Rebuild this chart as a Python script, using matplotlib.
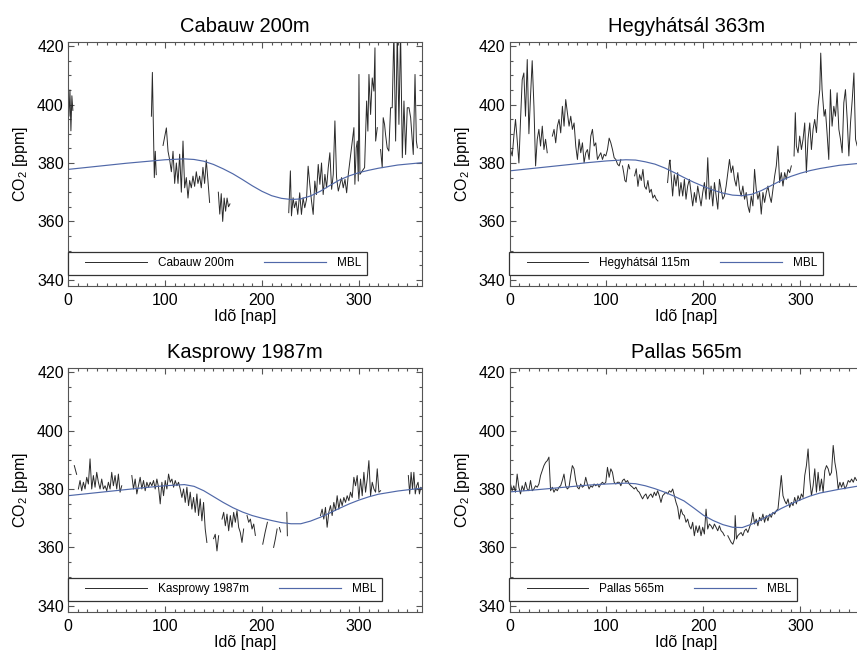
import numpy as np
import matplotlib
matplotlib.use("Agg")
import matplotlib.pyplot as plt
from matplotlib.legend_handler import HandlerLine2D
from matplotlib.lines import Line2D
from matplotlib.ticker import MultipleLocator

plt.rcParams['font.family'] = ['Liberation Sans', 'DejaVu Sans']

# ---------------- data ----------------
titles = ['Cabauw 200m', 'Hegyhátsál 363m', 'Kasprowy 1987m', 'Pallas 565m']
legend_labels = ['Cabauw 200m', 'Hegyhátsál 115m', 'Kasprowy 1987m', 'Pallas 565m']
mbl_label = 'MBL'
x_label = 'Idõ [nap]'
y_label = r'CO$_{\mathregular{2}}$ [ppm]'
x_ticks = [0, 100, 200, 300]
y_ticks = [340, 360, 380, 400, 420]

# MBL reference curves (day, ppm)
mbl_day = [0, 20, 40, 60, 80, 100, 120, 130, 140, 150, 160, 170, 180, 190, 200, 210, 220, 230,
           240, 250, 260, 270, 280, 290, 300, 310, 320, 340, 365]
cab_mbl = [377.8, 378.5, 379.2, 379.9, 380.5, 381.1, 381.4, 381.2, 380.6, 379.5, 378.0, 376.3,
           374.3, 372.2, 370.3, 368.8, 367.9, 367.5, 367.7, 368.7, 370.3, 372.3, 374.2, 375.6,
           376.7, 377.5, 378.2, 379.3, 380.1]
heg_mbl = [377.3, 378.0, 378.7, 379.4, 380.1, 380.7, 381.1, 381.0, 380.4, 379.6, 378.3, 376.7,
           375.0, 373.4, 372.0, 370.7, 369.7, 369.0, 368.8, 369.3, 370.6, 372.3, 374.0, 375.4,
           376.5, 377.4, 378.1, 379.2, 380.0]
kas_mbl = [377.7, 378.4, 379.1, 379.8, 380.5, 381.1, 381.5, 380.9, 379.4, 377.4, 375.4, 373.6,
           372.1, 370.9, 370.0, 369.2, 368.5, 368.1, 368.1, 369.0, 370.3, 371.8, 373.4, 374.9,
           376.2, 377.3, 378.2, 379.3, 380.3]
pal_mbl = [379.0, 379.5, 380.1, 380.7, 381.3, 381.7, 382.0, 381.8, 381.1, 380.1, 378.9, 377.5,
           375.9, 373.5, 371.0, 369.2, 367.8, 366.9, 366.8, 368.0, 369.6, 371.4, 373.3, 374.9,
           376.3, 377.6, 378.6, 379.9, 381.3]

# ---- Cabauw 200m observations ----
cab_d1 = [0, 1, 2, 3, 4, 5]
cab_v1 = [404, 396, 405, 391, 403, 398]
cab_d2 = [86, 87, 88, 89, 90, 91]
cab_v2 = [396, 411, 392, 375, 384, 376]
cab_d3 = (98, 146)
cab_v3 = [386, 389, 392, 384, 381, 377, 384, 373, 380, 373, 383, 370, 387.5, 371.5, 375,
          368, 374, 371.5, 375.5, 372, 377, 373, 375.5, 371.5, 378.5, 373, 381, 374, 366.5]
cab_d4 = (155, 167)
cab_v4 = [370, 362.5, 369.5, 360, 368, 363.5, 368, 365, 366]
cab_d5 = [227.6, 229.3, 230.4, 232.1, 233.5, 235.2, 236.9, 238.9, 240.7, 242.4,
          244.1, 245.9, 247.6, 249.3, 251.1, 252.8, 254.5, 256.2, 258.0, 259.7,
          261.4, 263.1, 264.9, 266.6, 268.3, 270.0, 271.8, 273.5, 275.2, 276.9,
          278.7, 280.4, 282.1, 283.8, 285.6, 287.3, 289.0, 294.8, 295.8, 297.2,
          298.3, 299.3, 300.0, 301.0, 303.4, 305.8, 307.9, 309.2, 310.3, 312.0,
          313.7, 315.4, 316.5, 317.2, 318.9]
cab_v5 = [363, 377.3, 361.9, 368.1, 364.7, 366.9, 362.4, 369.8, 362.4, 368.1,
          364.7, 367.5, 378.9, 372.7, 366.9, 362.4, 373.8, 369.2, 379.5, 372.7,
          380, 369.2, 376.1, 371.5, 378.3, 383.5, 371, 376.1, 394.4, 375,
          370.4, 372.7, 375, 371.5, 374.4, 369.8, 376.1, 392.1, 372.7, 385.2,
          387.5, 373.8, 410.3, 376.1, 377.3, 378.4, 401.2, 390.9, 410.3, 396.6,
          409.1, 404.6, 419.4, 387.5, 392.1]
cab_d6 = [322.3, 324, 325, 326.4, 327.4, 329.1, 330.8, 332.6, 334.3, 336,
          337.8, 339.5, 341.2, 342.9, 344.7, 346.4, 348.1, 349.8, 351.6, 353.3,
          355, 356, 357.8, 359.2, 360.2]
cab_v6 = [384.6, 378.4, 395.5, 393.2, 389.8, 385.2, 384.1, 398.9, 398.9, 425,
          387.5, 425, 393.2, 425, 381.8, 401.2, 382.9, 398.9, 398.9, 395.5,
          387.5, 382.9, 410.3, 387.5, 385.2]

# ---- Hegyhátsál 115m observations ----
heg_d1 = [0, 1, 2.8, 4.5, 6.2, 7.9, 9.7, 11.4, 13.1, 14.8, 16.5, 18.3, 20.0, 21.7,
          23.4, 25.2, 26.9, 28.6, 30.3, 32.0, 33.8, 35.5, 37.2, 38.9]
heg_v1 = [388, 384.6, 382.4, 389.2, 394.9, 388, 380, 394.9, 408.5, 410.8, 396, 415.4, 390, 403,
          415, 399.4, 379, 388.1, 391.5, 385.8, 392.6, 384.6, 388.1, 383.5]
heg_d2 = (44.2, 114.8)
heg_v2 = [389.2, 391.5, 386.9, 392.6, 394.9, 390.3, 399.4, 392.6, 401.7, 397.2,
          392.6, 396, 391.5, 393.7, 385.8, 381.2, 388.1, 383.5, 386.9, 380.1,
          383.5, 384.6, 381.2, 389.2, 391.5, 385.8, 386.9, 381.2, 382.4, 383.5,
          381.2, 383, 382.4, 384.6, 388.5, 386.9, 384.6, 381.8, 381.2, 379.6,
          379, 381.2]
heg_d3 = (116.5, 124)
heg_v3 = [379, 376.7, 374, 373.5, 377, 379.5, 378]
heg_d4 = (129, 153)
heg_v4 = [375.6, 378, 372, 376, 374, 377.8, 372, 371, 374, 369.9, 371, 368, 369, 367.6, 367]
heg_d5 = [163, 164.8, 165.5, 168.2, 169.9, 171.7, 173.4, 175.1, 176.8, 178.6, 180.3, 182,
          183.7, 185.5, 187.2]
heg_v5 = [373.3, 380.1, 381, 368.7, 376, 372.1, 376.7, 368.7, 373.3, 368.7, 374.4, 367.6,
          372.1, 374.4, 369.9]
heg_d6 = (188.9, 290.6)
heg_v6 = [365.3, 369.9, 366.5, 372.1, 368.7, 365.3, 369.9, 373.3, 367.6, 381.8,
          367.6, 372.1, 365.3, 373.3, 368.7, 364.2, 374.4, 371, 367.6, 368.7,
          372.1, 376.7, 381.2, 376.7, 379, 374.4, 372.1, 376.7, 371, 368.7,
          372.1, 367.6, 369.9, 365.3, 363.1, 368.7, 365.3, 377.8, 371, 367.6,
          369.9, 362.5, 369.9, 366.5, 369.9, 372.1, 368.7, 366.5, 371, 375.5,
          379, 385.8, 373.3, 376.7, 372.1, 376.7, 374.4, 377.8, 376.7, 379]
heg_d7 = [293.4, 294.7, 295.8, 297.5, 299.2, 301.0, 302.7, 304.4, 306.1, 307.8,
          309.6, 311.3, 313.0, 314.7, 316.5, 318.2, 319.9, 320.9, 322.3, 324.4,
          325.7, 327.4, 329.2, 330.9, 332.6, 334.4, 336.1, 337.8, 339.6, 341.3,
          343.0, 344.7, 346.4, 348.2, 349.9, 351.6, 353.4, 355.1, 356.8, 358.5,
          359.9, 362]
heg_v7 = [382.4, 397.2, 385.8, 383.5, 389.2, 384.6, 388.1, 393.7, 376.7, 388.1,
          393.7, 384.6, 391.5, 394.9, 390.4, 399.4, 405.1, 417.6, 405.1, 396,
          398.3, 390.4, 381.2, 405.1, 392.6, 399.4, 396, 404, 391.5, 388.1,
          383.5, 400.6, 405.1, 394.9, 382.4, 393.7, 401.7, 410.8, 388.1, 385.8,
          390.4, 386]

# ---- Kasprowy 1987m observations ----
kas_d1 = [6.5, 8.9]
kas_v1 = [388, 385]
kas_d2 = (10.7, 55.4)
kas_v2 = [380, 382.9, 379.4, 382.3, 380, 384, 381.7, 390.3, 380, 384.6, 380.6, 385.7, 382.3,
          380, 383.4, 380, 381.1, 379.4, 382.3, 380, 385.7, 381.1, 384.6, 380, 385.1, 378.9, 381.1]
kas_d3 = (65.8, 112.3)
kas_v3 = [384.6, 380, 383.4, 378.3, 381.1, 384, 380, 382.9, 379.4, 382.3, 380.6, 382.3, 381.1,
          382.9, 380, 383.4, 380.6, 374.9, 382.3, 377.7, 382.9, 380, 385.1, 382.3, 383.4, 380.6,
          382.9, 381.1]
kas_d4 = (114.0, 143.2)
kas_v4 = [382.3, 380, 377.1, 380, 375.4, 380.6, 374.3, 378.9, 373.1, 377.1, 372, 378.3, 370.9,
          376.6, 369.1, 375.4, 366.3, 361.7]
kas_d5 = [150.1, 151.8, 153.6, 155.3]
kas_v5 = [363, 364.5, 358.8, 364]
kas_d6 = (158.8, 181.1)
kas_v6 = [369.7, 372, 367.4, 371.4, 365.7, 370.9, 366.9, 372, 368.6, 372.6, 366.9, 365.1, 361.7, 366.3]
kas_d7 = (184.6, 193.2)
kas_v7 = [370.9, 368.6, 369.7, 366.3, 368, 364.1]
kas_d8 = (200.8, 205.6)
kas_v8 = [361.1, 365.1, 368.6]
kas_d9 = (212, 215.6)
kas_v9 = [360, 362.9, 366.3]
kas_d10 = [218, 219.2]
kas_v10 = [366.8, 365.3]
kas_d11 = [225.6, 226.2]
kas_v11 = [372, 364]
kas_d12 = (260.3, 322.3)
kas_v12 = [370.9, 373.1, 369.7, 373.7, 366.9, 372, 374.3, 370.9, 375.4, 372.6, 377.7, 373.1,
           376.6, 374.3, 377.1, 375.4, 377.7, 376, 378.9, 377.1, 384, 381.1, 384.6, 376.6,
           383.4, 377.7, 385.7, 378.9, 383.4, 389.7, 377.7, 382.3, 380, 378.9, 386.9, 378.9, 379.4]
kas_d13 = (350.9, 365.2)
kas_v13 = [384.6, 378.3, 385.7, 380, 385.7, 378.3, 381.1, 382.3, 378.3, 380.6, 380]

# ---- Pallas 565m observations ----
pal_d1 = (1.0, 171.7)
pal_v1 = [381.7, 379.4, 381.1, 378.9, 385.1, 380.6, 378.3, 381.1, 379.4, 382.3,
          380, 379.4, 382.9, 379.4, 380, 381.1, 380.6, 381.7, 384.6, 386.3,
          388, 389.1, 389.7, 390.9, 379.4, 380.6, 378.9, 380, 379.4, 380.6,
          381.1, 382.9, 385.1, 381.1, 380, 380.6, 384.6, 388, 386.9, 382.9,
          380.6, 380, 381.7, 380.6, 381.1, 384, 381.7, 380, 381.1, 380.6,
          381.7, 381.1, 381.7, 380.6, 381.7, 382.3, 381.7, 382.3, 387.4, 384,
          386.9, 385.7, 382.3, 381.7, 382.3, 382.3, 381.1, 382.9, 383.4, 382.3,
          382.9, 381.7, 381.1, 380.6, 380, 380.6, 379.4, 378.9, 377.7, 376.6,
          377.7, 378.3, 376.6, 377.7, 378.3, 377.1, 378.9, 377.7, 379.4, 377.7,
          375.4, 377.7, 378.3, 378.9, 378.3, 379.4, 378.9, 380, 377.7, 375.4]
pal_d2 = (173.4, 182.0)
pal_v2 = [373.7, 369.7, 373.1, 371.4, 370.9, 368.6]
pal_d3 = (183.7, 221.6)
pal_v3 = [369.7, 367.4, 366.3, 368.6, 364, 367.4, 365.1, 367.4, 364, 366.9, 364.6, 373.1,
          366.3, 368, 367.4, 366.3, 368, 366.9, 365.7, 367.4, 365.7, 365.1, 364]
pal_d4 = [225.1, 226.8, 228.6, 230.3, 232.0, 232.7, 234.0]
pal_v4 = [364, 362.9, 361.7, 361.1, 362.9, 370.9, 362.9]
pal_d5 = (235.4, 357.9)
pal_v5 = [364, 364.6, 365.1, 364, 365.7, 366.3, 365.1, 366.9, 368.6, 372,
          368, 369.7, 367.4, 370.3, 369.1, 371.4, 368.6, 370.9, 369.1, 371.4,
          370.3, 372, 371.4, 372.6, 373.1, 378.9, 384.6, 377.7, 376, 374.9,
          376.6, 373.7, 375.4, 374.3, 377.1, 374.9, 377.7, 376, 378.3, 377.1,
          384.6, 388, 393.7, 383.4, 377.7, 381.1, 386.9, 378.9, 385.7, 379.4,
          383.4, 378.9, 386.3, 388, 386.9, 384.6, 385.7, 394.9, 389.1, 385.7,
          380, 382.3, 380.6, 382.3, 380, 381.1, 382.9, 382.3, 383.4, 382.3,
          384, 382.9]
pal_d6 = [359.9, 362]
pal_v6 = [383.4, 384]


def seg(days, vals):
    if isinstance(days, tuple):
        d = np.linspace(days[0], days[1], len(vals))
    else:
        d = np.asarray(days, dtype=float)
    return d, np.asarray(vals, dtype=float)


def series(*parts):
    """parts: (days, vals) pairs or None for a data gap."""
    ds, vs = [], []
    for p in parts:
        if p is None:
            ds.append([np.nan]); vs.append([np.nan])
        else:
            d, v = seg(*p)
            ds.append(d); vs.append(v)
    return np.concatenate(ds), np.concatenate(vs)


G = None
obs = [
    series((cab_d1, cab_v1), G, (cab_d2, cab_v2), G, (cab_d3, cab_v3), G, (cab_d4, cab_v4), G,
           (cab_d5, cab_v5), G, (cab_d6, cab_v6)),
    series((heg_d1, heg_v1), G, (heg_d2, heg_v2), G, (heg_d3, heg_v3), G, (heg_d4, heg_v4), G,
           (heg_d5, heg_v5), (heg_d6, heg_v6), G, (heg_d7, heg_v7)),
    series((kas_d1, kas_v1), G, (kas_d2, kas_v2), G, (kas_d3, kas_v3), (kas_d4, kas_v4), G,
           (kas_d5, kas_v5), G, (kas_d6, kas_v6), G, (kas_d7, kas_v7), G, (kas_d8, kas_v8), G,
           (kas_d9, kas_v9), G, (kas_d10, kas_v10), G, (kas_d11, kas_v11), G,
           (kas_d12, kas_v12), G, (kas_d13, kas_v13)),
    series((pal_d1, pal_v1), (pal_d2, pal_v2), (pal_d3, pal_v3), G, (pal_d4, pal_v4),
           (pal_d5, pal_v5), (pal_d6, pal_v6)),
]
mbls = [cab_mbl, heg_mbl, kas_mbl, pal_mbl]

# ---------------- figure ----------------
W, H = 857, 652
fig = plt.figure(figsize=(W / 100, H / 100), dpi=100)
fig.patch.set_facecolor('white')

# axes boxes in pixels: (left, top, right, bottom)
boxes = [(68, 42, 422, 286), (509.5, 42, 863.5, 286),
         (68, 368, 422, 612), (509.5, 368, 863.5, 612)]

obs_color = '#2a2a2a'
mbl_color = '#5068a8'
axis_color = '#555555'

for i in range(4):
    l, t, r, b = boxes[i]
    ax = fig.add_axes([l / W, 1 - b / H, (r - l) / W, (b - t) / H])
    d, v = obs[i]
    ln1, = ax.plot(d, v, color=obs_color, lw=0.7)
    ln2, = ax.plot(mbl_day, mbls[i], color=mbl_color, lw=0.85)

    ax.set_xlim(0, 365)
    ax.set_ylim(337.9, 421.4)
    ax.set_xticks(x_ticks)
    ax.set_yticks(y_ticks)
    ax.xaxis.set_minor_locator(MultipleLocator(10))
    ax.yaxis.set_minor_locator(MultipleLocator(5))
    ax.tick_params(which='both', direction='in', top=True, right=True,
                   color=axis_color, width=0.8, labelsize=11.5, labelcolor='black')
    ax.tick_params(which='major', length=4)
    ax.tick_params(which='minor', length=2)
    ax.tick_params(axis='x', which='major', pad=5)
    ax.tick_params(axis='y', which='major', pad=3)
    for s in ax.spines.values():
        s.set_color(axis_color)
        s.set_linewidth(0.8)

    ax.set_title(titles[i], fontsize=14.5, pad=7)
    ax.set_xlabel(x_label, fontsize=11.5, labelpad=1)
    ax.set_ylabel(y_label, fontsize=11.5, labelpad=5)

    leg = ax.legend([ln1, ln2], [legend_labels[i], mbl_label], loc='lower left',
                    bbox_to_anchor=(0, 0.045), ncol=2, fontsize=8.5, frameon=True,
                    fancybox=False, borderpad=0.48, borderaxespad=0,
                    handlelength=6.2, handletextpad=0.93, columnspacing=1.58,
                    handler_map={Line2D: HandlerLine2D(xpad=0.96)})
    fr = leg.get_frame()
    fr.set_edgecolor('#333333')
    fr.set_linewidth(0.9)
    fr.set_facecolor('white')
    fr.set_alpha(1)

fig.savefig('out.png', dpi=100)
